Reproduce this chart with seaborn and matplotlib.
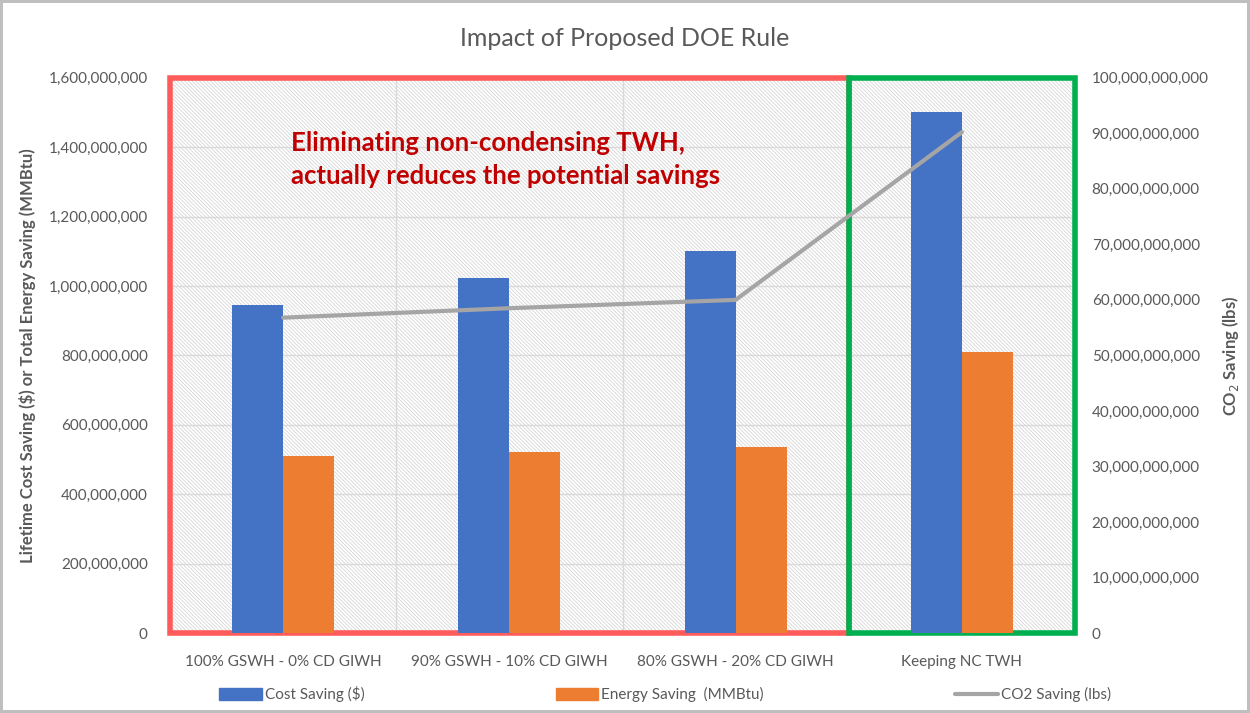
import numpy as np
import pandas as pd
import seaborn as sns
import matplotlib.pyplot as plt
from matplotlib.patches import Rectangle
from matplotlib.lines import Line2D
from matplotlib.ticker import FuncFormatter

categories = ['100% GSWH - 0% CD GIWH', '90% GSWH - 10% CD GIWH',
              '80% GSWH - 20% CD GIWH', 'Keeping NC TWH']
cost_saving = [946_000_000, 1_024_000_000, 1_100_000_000, 1_500_000_000]
energy_saving = [511_000_000, 523_000_000, 537_000_000, 810_000_000]
co2_saving = [56_800_000_000, 58_500_000_000, 60_000_000_000, 90_200_000_000]
series_names = ['Cost Saving ($)', 'Energy Saving  (MMBtu)']
line_name = 'CO2 Saving (lbs)'

df = pd.DataFrame({
    'category': categories * 2,
    'value': cost_saving + energy_saving,
    'series': [series_names[0]] * 4 + [series_names[1]] * 4,
})

sns.set_theme(style='white')
plt.rcParams['font.family'] = ['Lato', 'DejaVu Sans']
plt.rcParams['hatch.linewidth'] = 0.6
grey = '#595959'

fig = plt.figure(figsize=(12.5, 7.13), dpi=100)
fig.patch.set_edgecolor('#BFBFBF')
fig.patch.set_linewidth(3)
ax = fig.add_axes([0.136, 0.112, 0.724, 0.779])

# hatched background
ax.add_patch(Rectangle((0, 0), 1, 1, transform=ax.transAxes, facecolor='white',
                       edgecolor='#D6D6D6', hatch='\\' * 9, lw=0, zorder=0))

sns.barplot(data=df, x='category', y='value', hue='series',
            palette=['#4472C4', '#ED7D31'], width=0.45, saturation=1,
            ax=ax, legend=False, zorder=3, linewidth=0, edgecolor='none')

n = len(categories)
ax.set_xlim(-0.5, n - 0.5)
ax.set_ylim(0, 1.6e9)
ax.set_yticks(np.arange(0, 1.6e9 + 1, 2e8))
ax.yaxis.set_major_formatter(FuncFormatter(lambda v, p: f'{v:,.0f}'))
ax.set_xticks(np.arange(n) - 0.5, minor=True)
ax.grid(axis='y', color='#D9D9D9', lw=1, zorder=1)
ax.grid(axis='x', which='minor', color='#D9D9D9', lw=1, zorder=1)
ax.set_axisbelow(True)
ax.tick_params(axis='both', length=0, labelcolor=grey)
ax.tick_params(axis='y', labelsize=11, pad=16)
ax.tick_params(axis='x', labelsize=11, pad=16)
ax.set_xlabel('')
ax.set_ylabel('Lifetime Cost Saving ($) or Total Energy Saving (MMBtu)',
              fontsize=12, fontweight='bold', color=grey, labelpad=9)
for s in ax.spines.values():
    s.set_visible(False)

# highlight boxes
ax.add_patch(Rectangle((-0.5, 0), 3, 1.6e9, fill=False, edgecolor='#FF5B5B',
                       lw=4, zorder=2, clip_on=False))
ax.add_patch(Rectangle((2.5, 0), 1, 1.6e9, fill=False, edgecolor='#00B050',
                       lw=4, zorder=2, clip_on=False))

ax2 = ax.twinx()
ax2.plot(np.arange(n), co2_saving, color='#A5A5A5', lw=3, zorder=5)
ax2.set_ylim(0, 1e11)
ax2.set_yticks(np.arange(0, 1e11 + 1, 1e10))
ax2.yaxis.set_major_formatter(FuncFormatter(lambda v, p: f'{v:,.0f}'))
ax2.tick_params(axis='y', length=0, labelcolor=grey, labelsize=11, pad=12)
ax2.set_ylabel('CO$_2$ Saving (lbs)', fontsize=12, fontweight='bold',
               color=grey, labelpad=8)
ax2.grid(False)
for s in ax2.spines.values():
    s.set_visible(False)

ax.text(0.035, 1.365e9, 'Eliminating non-condensing TWH,\nactually reduces the potential savings',
        color='#C00000', fontsize=18.5, fontweight='bold', va='center', ha='left',
        linespacing=1.45, zorder=6)

fig.suptitle('Impact of Proposed DOE Rule', y=0.962, fontsize=18, color=grey)

handles = [Rectangle((0, 0), 1, 1, color='#4472C4'),
           Rectangle((0, 0), 1, 1, color='#ED7D31'),
           Line2D([0], [0], color='#A5A5A5', lw=3)]
fig.legend(handles, series_names + [line_name], loc='lower center',
           bbox_to_anchor=(0.532, -0.004), ncol=3, frameon=False, fontsize=11,
           labelcolor=grey, columnspacing=12.5, handlelength=2.8,
           handleheight=0.8, handletextpad=0.2)

fig.savefig('out.png', dpi=100)
